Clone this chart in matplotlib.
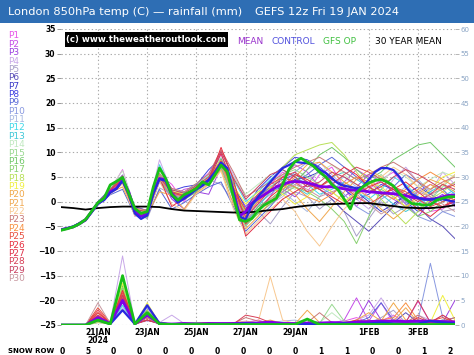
import numpy as np
import pandas as pd
import matplotlib
matplotlib.use("Agg")
import matplotlib.pyplot as plt
from matplotlib.patches import Rectangle

# GEFS 12z run, Fri 19 Jan 2024
times6 = pd.date_range("2024-01-19 12:00", "2024-02-04 12:00", freq="6h")
times12 = pd.date_range("2024-01-19 12:00", "2024-02-04 12:00", freq="12h")

# 850hPa temps (C), 6-hourly
mean_temp = [-5.7, -5.4, -5.1, -4.5, -3.7, -2.0, -0.3, 0.5, 2.0, 2.7, 4.4, 2.0, -2.0,
             -3.0, -2.4, 2.0, 4.7, 4.4, 1.7, 0.3, 1.0, 1.8, 2.7, 3.4, 4.4, 5.7,
             7.8, 6.4, 2.0, -2.9, -2.0, -0.3, 0.6, 1.4, 2.2, 3.0, 3.5, 3.9, 4.1,
             4.0, 3.8, 3.5, 3.1, 3.0, 3.0, 2.8, 2.6, 2.4, 2.3, 2.2, 2.0, 1.9,
             1.8, 1.7, 1.6, 1.4, 1.2, 0.9, 0.7, 0.6, 0.5, 0.6, 1.0, 1.3, 1.3]
control_temp = [-5.7, -5.4, -5.0, -4.4, -3.7, -2.1, -0.4, 0.3, 1.8, 2.6, 4.2, 1.5, -2.4,
                -3.5, -2.8, 1.6, 4.6, 4.2, 1.2, -0.2, 0.6, 1.5, 2.5, 3.3, 4.4, 6.0,
                7.9, 6.8, 1.8, -3.0, -3.6, -0.7, 1.0, 2.4, 4.0, 5.4, 6.8, 7.4, 8.1,
                7.9, 7.8, 7.5, 6.5, 5.8, 4.7, 3.7, 3.2, 3.0, 2.7, 3.0, 4.5, 6.0,
                6.8, 6.8, 6.4, 5.0, 3.0, 1.5, 0.8, 0.4, 0.4, 0.6, 0.5, 0.2, 0.0]
op_temp = [-5.8, -5.5, -5.1, -4.5, -3.6, -1.9, -0.2, 0.7, 3.4, 4.1, 4.9, 1.7, -1.4,
           -2.4, -2.0, 3.0, 6.8, 4.7, 1.4, 0.3, 1.4, 2.0, 2.7, 4.0, 3.4, 5.4,
           7.4, 6.1, 1.0, -3.7, -4.0, -3.4, -1.8, -0.7, 0.0, 0.7, 3.5, 6.5, 8.1,
           8.8, 8.0, 7.2, 6.0, 5.0, 3.5, 2.4, 0.5, -1.5, 1.8, 3.0, 3.8, 4.3,
           4.5, 4.0, 3.2, 1.6, 0.5, -0.4, -0.5, -0.7, -0.6, 0.3, 0.7, 1.0, 1.0]

# 12-hourly
clim_temp = [-1.1, -1.3, -1.6, -1.3, -1.1, -1.0, -1.0, -1.0, -1.1, -1.5, -1.8,
             -1.9, -2.0, -2.1, -2.2, -2.2, -2.0, -1.7, -1.5, -1.1, -0.8, -0.6,
             -0.5, -0.4, -0.3, -0.3, -0.6, -0.9, -1.2, -1.3, -1.3, -1.1, -0.7]
mean_rain = [0, 0, 0, 1.5, 0.3, 5.0, 0.2, 2.0, 0.3, 0.2, 0.3,
             0.2, 0.3, 0.3, 0.3, 0.4, 0.4, 0.6, 0.3, 0.3, 0.4, 0.4,
             0.5, 0.4, 0.6, 0.7, 0.8, 0.8, 0.7, 0.8, 0.8, 0.7, 0.6]
control_rain = [0, 0, 0, 1.0, 0.2, 3.0, 0.2, 4.0, 0.3, 0.1, 0.2,
                0.1, 0.2, 0.1, 0.2, 0.3, 0.2, 0.1, 0.2, 0.1, 0.2, 0.1,
                0.2, 0.3, 0.2, 0.3, 0.5, 0.3, 0.2, 0.3, 0.8, 0.5, 0.3]
op_rain = [0, 0, 0, 1.0, 0.2, 10.0, 0.2, 2.5, 0.2, 0.1, 0.1,
           0.1, 0.1, 0.1, 0.1, 0.1, 0.1, 0.1, 0.1, 0.1, 1.2, 0.1,
           0.1, 0.1, 0.1, 0.1, 0.1, 0.1, 0.1, 0.1, 0.1, 0.1, 0.1]

members = ["P%d" % i for i in range(1, 31)]
member_colors = ["#e855e8", "#c44ce8", "#9b3fe0", "#c8a8e8", "#a8a0c8", "#5a4fb8",
                 "#3a3ac8", "#4040e0", "#5868d8", "#8898e0", "#a8b8e0", "#40d8e8",
                 "#40c8d8", "#c0e8c0", "#98d890", "#70c868", "#88d070", "#b8e058",
                 "#f0f040", "#f0a848", "#f0a850", "#f8c890", "#c87878", "#f89040",
                 "#e85040", "#e83040", "#e03048", "#d84058", "#c84060", "#c898a0"]

member_temp = [
    [-5.8, -5.0, -3.6, -0.5, 2.4, 6.5, -1.5, -3.0, 5.5, 3.5, 0.0, 3.5, 5.8, 9.5, 4.0, -3.5, 0.0, 3.5, 6.0, 4.5, 2.0, 5.5, 7.0, 3.0, -1.0, 2.5, 4.5, 6.0, 3.0, 1.0, -2.0, -1.5, 0.5],
    [-5.6, -5.2, -3.9, -0.2, 1.8, 4.0, -2.5, -2.8, 4.0, 1.0, 2.5, 3.0, 3.5, 8.5, 1.0, -4.0, -1.5, 1.0, 5.0, 7.5, 6.0, 3.0, 1.5, 4.0, 6.5, 5.0, 2.0, 0.5, -1.0, 2.0, 3.5, 2.5, 4.0],
    [-5.7, -5.1, -3.5, -0.6, 2.5, 5.0, -2.8, -1.5, 5.0, 0.5, -1.5, 2.0, 1.5, 7.0, 3.0, -1.0, 1.5, 4.0, 2.5, 1.0, 3.5, 6.5, 4.0, 1.0, 3.0, 5.5, 4.0, 2.0, -0.5, -3.0, 0.0, 1.5, -1.0],
    [-5.9, -5.3, -3.8, -0.1, 1.5, 3.8, -3.0, -2.0, 8.5, 2.0, 1.5, 1.5, 5.0, 10.0, 5.5, 0.5, -2.5, -0.5, 1.0, 3.5, 6.5, 8.0, 5.5, 3.0, 0.5, -1.5, 1.0, 4.5, 7.0, 4.0, 2.0, 6.0, 3.5],
    [-5.6, -5.0, -3.6, -0.4, 2.2, 4.5, -1.8, -3.5, 2.8, 1.5, 0.5, 3.0, 4.5, 3.5, 0.0, -5.0, -2.0, -4.5, -1.0, 2.0, 1.0, -1.5, 0.5, -2.0, -7.0, -3.5, 0.0, -2.5, -1.0, 2.5, 1.0, -2.0, -1.5],
    [-5.8, -5.2, -3.7, -0.2, 1.9, 4.2, -2.2, -2.5, 4.5, 1.8, 1.2, 2.5, 4.0, 8.0, 1.5, -3.0, 1.0, 3.0, 4.5, 5.5, 4.0, 2.5, 0.5, -2.0, -4.0, -6.0, -3.5, -1.0, 1.5, -1.0, -3.5, -5.0, -7.5],
    [-5.7, -5.1, -3.8, -0.3, 2.1, 4.6, -2.0, -2.2, 4.8, 2.0, 0.8, 2.8, 4.6, 7.5, 2.5, -2.5, 0.5, 2.0, 3.0, 4.5, 5.0, 6.0, 4.5, 3.5, 2.0, 0.0, -2.0, -0.5, 1.5, 3.0, 1.5, 0.0, 1.0],
    [-5.5, -5.0, -3.4, 0.0, 2.6, 5.4, -1.0, -1.8, 5.2, 2.2, 3.0, 3.4, 6.5, 8.8, 3.5, -1.5, 2.5, 5.0, 7.0, 9.0, 8.5, 7.0, 5.0, 2.5, 0.5, 1.5, 3.5, 2.5, 0.0, -2.0, -0.5, 1.0, -0.5],
    [-5.8, -5.2, -3.9, -0.7, 1.4, 2.5, -2.7, -3.0, 2.5, -1.5, -0.2, 1.5, 3.0, 4.0, -1.0, -6.0, -3.5, -1.0, 2.0, 4.0, 5.5, 7.5, 9.0, 7.0, 5.0, 3.0, 1.0, 3.0, 5.5, 4.0, 1.5, 2.5, 0.0],
    [-5.7, -5.0, -3.6, -0.1, 2.3, 4.8, -1.6, -2.6, 4.4, 1.4, 1.0, 2.2, 3.8, 7.2, 1.0, -3.0, -0.5, 1.5, 3.5, 6.0, 8.0, 6.5, 4.0, 1.5, -1.0, -2.5, 0.5, 2.0, 0.0, -3.0, -4.0, -2.0, -3.0],
    [-5.6, -5.1, -3.7, -0.3, 2.0, 4.3, -2.1, -2.3, 4.6, 1.6, 0.9, 2.6, 4.5, 7.6, 2.2, -1.8, 1.2, 3.2, 2.0, 0.0, -2.0, 1.0, 3.5, 5.0, 3.0, 0.5, -1.0, 1.0, 3.0, 4.5, 2.0, 0.5, 2.0],
    [-5.8, -5.3, -3.8, -0.4, 1.7, 4.1, -2.4, -2.1, 7.5, 2.4, 1.8, 3.6, 5.2, 8.2, 4.5, 0.0, 2.0, 4.5, 6.5, 5.0, 3.5, 1.5, 2.5, 4.0, 2.0, 0.5, 2.5, 5.0, 3.5, 1.0, -1.0, 1.0, 2.5],
    [-5.7, -5.1, -3.6, -0.2, 2.2, 4.7, -1.9, -2.7, 4.2, 1.2, 0.6, 2.4, 4.2, 7.0, 0.5, -4.5, -1.0, 2.0, 4.0, 3.0, 1.5, 3.0, 5.0, 6.0, 4.5, 3.0, 1.5, -0.5, -2.0, -0.5, 2.0, 3.5, 1.5],
    [-5.6, -5.0, -3.5, -0.5, 2.7, 6.3, -1.2, -2.4, 5.8, 2.6, 1.4, 3.2, 5.5, 9.0, 5.0, 1.5, 3.5, 5.5, 4.0, 2.5, 4.5, 6.0, 7.5, 5.5, 3.5, 2.0, 4.0, 6.5, 5.0, 3.0, 4.5, 6.0, 5.0],
    [-5.8, -5.2, -3.7, -0.3, 1.6, 3.9, -2.6, -1.9, 4.9, 1.9, 1.3, 2.9, 4.7, 7.9, 2.8, -2.2, 0.2, 2.8, 5.5, 6.5, 5.0, 3.5, 2.0, 0.0, 1.5, 3.5, 5.5, 3.0, 1.0, -1.5, 0.5, 3.0, 5.5],
    [-5.7, -5.1, -3.8, -0.1, 2.4, 5.0, -1.7, -3.2, 5.3, 2.3, 0.4, 2.0, 4.8, 8.6, 3.8, -3.8, -1.0, 0.5, 2.5, 4.0, 6.5, 9.5, 11.0, 9.0, 6.5, 4.5, 6.0, 8.5, 10.0, 11.5, 12.0, 9.5, 7.0],
    [-5.6, -5.0, -3.6, -0.6, 2.0, 4.4, -2.3, -2.9, 4.3, 1.1, 0.7, 2.3, 4.1, 6.8, 0.8, -4.8, -2.5, -0.5, 1.5, 3.0, 2.0, 0.5, -1.5, -4.0, -8.5, -3.0, 2.5, 1.0, -1.0, -3.0, -2.0, 0.0, 1.5],
    [-5.7, -5.2, -3.7, -0.2, 2.1, 4.5, -2.0, -2.4, 4.7, 1.7, 1.0, 2.7, 4.4, 7.7, 2.0, -2.2, 1.0, 4.0, 7.0, 9.5, 10.5, 11.5, 12.0, 9.5, 6.0, 3.0, 0.5, -2.0, -4.5, -2.0, 0.5, 2.0, 4.0],
    [-5.8, -5.1, -3.6, -0.4, 2.3, 4.9, -1.4, -2.0, 5.1, 2.1, 1.5, 3.1, 4.9, 8.4, 3.2, -0.5, 2.0, 3.0, 1.5, -0.5, 1.0, 3.5, 2.0, 0.0, 2.0, 4.0, 3.0, 1.0, -1.0, 0.5, 2.5, 5.0, 6.0],
    [-5.6, -5.0, -3.9, -0.5, 1.8, 3.0, -2.5, -2.6, 2.0, 1.3, -1.5, 1.8, 3.6, 6.4, -0.5, -5.5, -3.0, 0.0, 2.5, 5.0, 7.5, 8.0, 6.0, 4.0, 2.5, 1.0, -1.5, -3.5, -1.5, 1.5, 3.5, 2.0, 0.0],
    [-5.7, -5.2, -3.6, -0.2, 2.2, 4.6, -2.2, -2.1, 4.5, 1.5, 1.2, 2.9, 4.6, 8.1, 2.6, -1.6, 0.8, 2.5, 3.5, 1.5, -1.5, -4.0, -1.0, 2.0, 4.5, 6.5, 5.0, 3.0, 1.0, 2.5, 4.5, 3.5, 2.0],
    [-5.8, -5.3, -3.8, -0.6, 1.5, 3.6, -2.9, -2.8, 4.1, -0.5, -1.8, 1.6, 3.4, 6.2, -1.5, -6.5, -4.0, -1.5, 0.5, -2.0, -6.0, -9.0, -5.0, -1.5, 1.0, 3.0, 5.0, 7.0, 5.5, 3.0, 1.0, 3.5, 5.5],
    [-5.6, -5.0, -3.5, -0.3, 2.5, 5.3, -1.3, -1.7, 5.7, 2.7, 2.0, 3.7, 5.6, 10.5, 6.0, 1.0, 2.5, 4.0, 5.5, 7.0, 8.0, 9.0, 7.5, 6.0, 4.5, 5.5, 7.0, 8.0, 6.5, 4.0, 2.5, 4.0, 5.0],
    [-5.7, -5.1, -3.7, -0.2, 2.1, 4.5, -2.1, -2.5, 4.6, 1.6, 0.9, 2.6, 4.3, 7.4, 1.5, -2.8, 0.0, 2.0, 4.0, 3.0, 1.0, 0.0, 1.5, 3.5, 5.0, 4.0, 2.0, 0.5, 2.5, 4.5, 6.0, 4.5, 3.0],
    [-5.8, -5.2, -3.6, -0.5, 1.9, 4.3, -2.2, -2.3, 4.8, 1.8, 1.1, 2.8, 4.5, 8.0, 2.3, -1.7, 1.5, 3.5, 5.0, 4.0, 2.0, 3.0, 4.5, 3.0, 1.0, -0.5, 1.0, 3.0, 2.0, 0.5, -1.0, 0.0, 1.0],
    [-5.6, -5.1, -3.8, -0.1, 2.0, 4.4, -2.0, -2.4, 4.7, 1.7, 1.0, 2.7, 4.4, 11.0, 4.5, -4.5, -2.0, 1.0, 3.0, 5.5, 4.5, 3.0, 5.0, 7.0, 5.5, 3.0, 1.5, 2.5, 4.0, 2.0, 0.0, -1.0, 0.5],
    [-5.7, -5.0, -3.7, -0.4, 2.2, 4.6, -1.8, -2.6, 4.9, -1.0, 0.8, 2.5, 4.3, 9.8, 3.0, -7.0, -4.5, -2.0, 0.5, 2.0, 3.5, 2.5, 1.0, -0.5, 1.5, 3.0, 4.0, 2.5, 0.5, -1.5, -3.0, -1.0, 0.0],
    [-5.8, -5.2, -3.6, -0.3, 1.8, 4.0, -2.3, -2.2, 5.0, 2.0, 1.3, 3.0, 4.6, 8.3, 2.6, -3.2, -0.5, 2.5, 5.0, 6.0, 4.0, 2.5, 3.5, 5.5, 7.0, 6.0, 4.5, 3.0, 1.5, 0.0, 1.5, 3.5, 2.5],
    [-5.6, -5.0, -3.5, -0.2, 2.4, 5.1, -1.6, -2.0, 7.0, 2.4, 1.7, 3.3, 5.0, 10.2, 4.8, 0.5, 3.0, 5.5, 6.5, 5.0, 3.0, 4.0, 6.0, 5.0, 3.5, 2.0, 3.0, 5.0, 6.5, 5.5, 4.0, 2.5, 3.5],
    [-5.7, -5.1, -3.7, -0.3, 2.0, 4.2, -2.1, -2.5, 4.6, 1.6, 0.9, 2.6, 4.3, 7.3, 1.2, -3.5, -1.5, 0.5, 2.0, 3.5, 2.5, 1.0, 2.0, 3.0, 1.5, -0.5, -2.5, -1.0, 0.5, 2.0, 1.0, -0.5, -2.0],
]

# rainfall (mm), 12-hourly
member_rain = [
    [0, 0, 0, 1.5, 0.3, 6.0, 0.2, 1.5, 0.5, 0.2, 0.3, 0.2, 0.5, 0.3, 0.2, 0.5, 1.0, 0.3, 0.2, 0.5, 0.2, 0.3, 0.5, 0.8, 1.5, 0.5, 0.8, 2.0, 0.5, 4.8, 0.5, 0.3, 1.0],
    [0, 0, 0, 0.8, 0.2, 5.0, 0.3, 2.0, 0.3, 0.1, 0.2, 0.3, 0.2, 0.5, 0.3, 0.2, 0.5, 0.2, 0.3, 0.2, 0.4, 0.2, 0.3, 1.0, 5.5, 0.8, 4.5, 0.5, 1.0, 0.5, 0.3, 0.5, 0.2],
    [0, 0, 0, 1.0, 0.3, 7.0, 0.2, 1.0, 0.2, 0.3, 0.2, 0.1, 0.3, 0.2, 0.4, 0.3, 0.2, 0.5, 0.3, 0.2, 0.2, 0.5, 0.2, 0.3, 0.5, 5.0, 1.0, 0.5, 0.3, 0.5, 1.0, 0.5, 5.0],
    [0, 0, 0, 0.5, 0.5, 14.0, 0.3, 0.8, 0.5, 2.0, 0.3, 0.5, 0.2, 0.3, 0.2, 0.5, 0.3, 0.2, 0.5, 0.3, 0.2, 0.3, 0.5, 0.3, 1.0, 2.0, 5.5, 1.5, 0.5, 2.0, 1.0, 0.5, 0.3],
    [0, 0, 0, 2.0, 0.2, 4.0, 0.2, 1.5, 0.3, 0.2, 0.3, 0.2, 0.5, 0.3, 0.2, 0.3, 0.4, 0.3, 0.2, 0.5, 0.3, 0.2, 0.4, 0.3, 0.5, 0.3, 1.5, 3.0, 0.5, 1.0, 0.5, 2.0, 0.5],
    [0, 0, 0, 1.2, 0.3, 5.5, 0.2, 2.5, 0.4, 0.2, 0.2, 0.3, 0.2, 0.2, 0.3, 0.4, 0.2, 0.3, 0.5, 0.2, 0.3, 0.2, 0.3, 0.5, 0.5, 1.0, 0.5, 0.5, 2.5, 0.5, 1.0, 0.8, 1.5],
    [0, 0, 0, 1.5, 0.2, 6.0, 0.3, 3.0, 0.3, 0.3, 0.2, 0.2, 0.3, 0.2, 0.2, 0.3, 0.5, 0.2, 0.3, 0.3, 0.2, 0.4, 0.3, 0.2, 0.3, 0.5, 0.3, 0.8, 0.5, 0.3, 0.5, 1.0, 0.5],
    [0, 0, 0, 0.8, 0.3, 4.5, 0.2, 4.0, 0.5, 0.2, 0.3, 0.2, 0.2, 0.3, 0.5, 0.2, 0.3, 0.5, 0.2, 0.4, 0.3, 0.2, 0.5, 0.3, 0.2, 0.5, 0.3, 0.5, 0.8, 0.5, 0.3, 0.8, 0.5],
    [0, 0, 0, 1.0, 0.2, 5.0, 0.3, 2.0, 0.2, 0.3, 0.2, 0.3, 0.2, 0.3, 0.2, 0.5, 0.3, 0.4, 0.2, 0.3, 0.5, 0.3, 0.2, 0.3, 0.5, 1.5, 4.5, 1.0, 0.5, 0.5, 0.8, 0.3, 0.5],
    [0, 0, 0, 1.5, 0.3, 6.5, 0.2, 3.5, 0.3, 0.2, 0.3, 0.2, 0.3, 0.2, 0.5, 0.3, 0.2, 0.3, 0.5, 0.2, 0.3, 0.5, 0.3, 0.2, 0.3, 0.5, 1.0, 0.5, 0.3, 1.0, 12.5, 1.5, 0.5],
    [0, 0, 0, 0.5, 0.2, 3.5, 0.3, 1.5, 0.2, 0.2, 0.5, 0.3, 0.5, 0.2, 0.3, 0.2, 0.3, 0.5, 0.8, 1.0, 0.5, 0.3, 0.5, 0.3, 0.5, 0.8, 0.5, 1.0, 0.3, 0.5, 1.0, 0.5, 0.3],
    [0, 0, 0, 1.0, 0.2, 4.0, 0.2, 2.0, 0.3, 0.3, 0.2, 0.5, 0.2, 0.3, 0.2, 0.3, 0.2, 0.3, 0.2, 0.5, 0.3, 0.2, 0.3, 0.5, 0.2, 0.3, 0.5, 0.3, 0.5, 0.3, 0.5, 0.3, 0.5],
    [0, 0, 0, 0.8, 0.3, 5.5, 0.2, 2.5, 0.2, 0.2, 0.3, 0.2, 0.3, 0.5, 0.2, 0.3, 0.3, 0.2, 0.3, 0.2, 0.5, 0.3, 0.2, 0.3, 0.5, 0.2, 0.3, 0.5, 0.3, 0.5, 0.3, 0.5, 0.3],
    [0, 0, 0, 1.2, 0.2, 5.0, 0.3, 1.0, 0.3, 0.2, 0.2, 0.3, 0.2, 0.3, 0.3, 0.5, 0.2, 0.3, 0.5, 0.3, 1.0, 0.5, 2.5, 0.5, 0.3, 0.5, 0.3, 1.0, 0.5, 0.3, 0.5, 0.8, 0.5],
    [0, 0, 0, 1.0, 0.3, 6.0, 0.2, 1.5, 0.2, 0.3, 0.2, 0.2, 0.3, 0.2, 0.5, 0.3, 0.2, 0.5, 0.3, 0.2, 0.5, 0.3, 4.2, 0.8, 0.5, 0.3, 0.5, 0.3, 0.5, 0.5, 0.3, 1.0, 0.5],
    [0, 0, 0, 0.8, 0.2, 8.0, 0.3, 2.0, 0.3, 0.2, 0.3, 0.5, 0.3, 0.2, 0.3, 0.2, 0.3, 0.2, 0.5, 0.3, 0.2, 0.5, 0.3, 0.2, 0.3, 0.5, 0.3, 0.2, 0.5, 0.3, 0.5, 0.3, 0.2],
    [0, 0, 0, 1.0, 0.3, 7.5, 0.2, 2.5, 0.5, 0.2, 0.2, 0.3, 0.2, 0.3, 0.2, 0.3, 0.5, 0.3, 0.2, 0.3, 0.5, 0.2, 0.3, 0.5, 0.3, 0.2, 0.5, 0.3, 0.2, 0.5, 0.3, 0.2, 0.5],
    [0, 0, 0, 0.5, 0.2, 5.0, 0.3, 3.0, 0.2, 0.3, 0.2, 0.2, 0.5, 0.3, 0.2, 0.5, 0.3, 0.2, 0.3, 0.2, 0.3, 0.5, 0.3, 0.2, 0.5, 0.3, 0.2, 0.5, 0.3, 0.5, 0.3, 0.5, 0.3],
    [0, 0, 0, 1.0, 0.3, 8.5, 0.2, 4.5, 0.3, 0.2, 0.3, 0.2, 0.3, 0.2, 0.5, 0.3, 0.2, 0.3, 0.2, 0.5, 0.3, 0.2, 0.3, 0.5, 0.2, 0.3, 0.5, 0.3, 0.5, 1.0, 0.5, 6.0, 1.0],
    [0, 0, 0, 1.5, 0.2, 6.0, 0.3, 2.0, 0.2, 0.3, 0.2, 0.3, 0.5, 0.3, 0.2, 0.3, 0.5, 1.0, 0.3, 0.2, 0.3, 0.5, 0.3, 0.5, 1.0, 2.5, 0.8, 4.5, 1.0, 0.5, 0.3, 0.5, 0.8],
    [0, 0, 0, 1.0, 0.3, 5.5, 0.2, 1.5, 0.3, 0.2, 0.3, 0.2, 0.3, 0.5, 0.2, 0.3, 0.2, 0.5, 0.3, 0.2, 3.0, 0.5, 0.3, 0.2, 0.5, 1.0, 0.5, 0.8, 3.5, 0.5, 0.3, 0.5, 0.3],
    [0, 0, 0, 0.8, 0.2, 5.0, 0.3, 2.0, 0.2, 0.3, 0.2, 0.3, 0.2, 0.3, 0.5, 0.8, 0.5, 9.8, 1.0, 0.3, 0.2, 0.3, 0.2, 0.5, 0.3, 0.5, 0.3, 0.5, 0.8, 0.5, 1.0, 0.5, 0.3],
    [0, 0, 0, 2.0, 0.3, 6.0, 0.2, 1.0, 0.3, 0.2, 0.5, 0.3, 0.2, 0.5, 0.3, 1.5, 0.8, 0.3, 0.5, 0.3, 0.5, 2.5, 0.5, 0.3, 0.5, 0.3, 0.5, 1.0, 0.5, 2.0, 0.5, 0.8, 1.5],
    [0, 0, 0, 2.5, 0.3, 7.0, 0.3, 1.5, 0.3, 0.2, 0.3, 0.2, 0.3, 0.2, 0.3, 0.5, 0.3, 0.5, 0.3, 0.2, 0.3, 0.2, 0.5, 0.3, 0.5, 0.3, 1.0, 1.5, 4.5, 1.0, 0.5, 0.3, 0.5],
    [0, 0, 0, 3.5, 0.5, 6.5, 0.2, 1.5, 0.2, 0.3, 0.2, 0.3, 0.2, 0.3, 0.2, 0.3, 0.5, 0.3, 0.2, 0.3, 0.2, 0.5, 0.3, 0.2, 0.3, 0.5, 0.3, 0.5, 0.3, 0.5, 0.8, 1.5, 0.5],
    [0, 0, 0, 3.0, 0.3, 7.0, 0.3, 1.0, 0.3, 0.2, 0.3, 0.2, 0.3, 0.2, 0.3, 0.2, 0.3, 0.5, 0.2, 0.3, 0.5, 0.3, 0.2, 0.5, 0.3, 0.2, 0.5, 0.3, 0.5, 0.3, 0.5, 0.3, 0.5],
    [0, 0, 0, 2.5, 0.3, 6.0, 0.2, 1.0, 0.3, 0.3, 0.2, 0.3, 0.2, 0.3, 0.5, 0.3, 0.2, 0.3, 0.5, 0.3, 0.2, 0.3, 0.5, 0.3, 1.0, 0.5, 0.3, 0.5, 0.3, 1.5, 0.5, 2.0, 0.5],
    [0, 0, 0, 2.0, 0.2, 5.5, 0.3, 1.5, 0.2, 0.3, 0.2, 0.3, 0.5, 0.3, 0.2, 2.0, 1.5, 0.5, 0.3, 0.2, 0.3, 0.5, 0.3, 0.5, 0.3, 0.5, 0.3, 0.5, 0.3, 0.5, 0.3, 0.5, 0.3],
    [0, 0, 0, 1.8, 0.3, 6.0, 0.2, 1.0, 0.3, 0.2, 0.3, 0.2, 0.3, 0.2, 0.5, 0.3, 0.2, 0.3, 0.2, 0.3, 0.5, 0.3, 0.2, 0.3, 0.5, 0.3, 0.5, 0.3, 0.5, 5.0, 0.5, 0.5, 0.3],
    [0, 0, 0, 4.5, 0.3, 5.0, 0.3, 1.5, 0.2, 0.3, 0.2, 0.3, 0.2, 0.5, 0.3, 0.2, 0.3, 0.2, 0.5, 0.3, 0.5, 0.2, 0.3, 0.5, 0.3, 0.5, 0.3, 0.5, 0.3, 0.5, 0.3, 0.5, 0.8],
]

snow_row = [0, 5, 0, 0, 0, 0, 0, 0, 0, 0, 1, 1, 0, 0, 1, 2]
tick_dates = pd.to_datetime(["2024-01-21", "2024-01-23", "2024-01-25", "2024-01-27",
                             "2024-01-29", "2024-02-01", "2024-02-03"])
tick_labels = ["21JAN\n2024", "23JAN", "25JAN", "27JAN", "29JAN", "1FEB", "3FEB"]

W, H = 474, 355
fig = plt.figure(figsize=(W / 100, H / 100), dpi=100)
fig.patch.set_facecolor("white")

# title bar
fig.add_artist(Rectangle((0, 1 - 23 / H), 1, 23 / H, transform=fig.transFigure,
                         facecolor="#2e6eb4", edgecolor="none"))
fig.text(8 / W, 1 - 12 / H, "London 850hPa temp (C) \u2014 rainfall (mm)", color="white",
         fontsize=8.2, va="center", ha="left")
fig.text(255 / W, 1 - 12 / H, "GEFS 12z Fri 19 JAN 2024", color="white",
         fontsize=8.2, va="center", ha="left")

ax = fig.add_axes([61 / W, 1 - 325 / H, 394 / W, 296 / H])
ax2 = ax.twinx()

for i in range(len(members)):
    ax.plot(times12, member_temp[i], color=member_colors[i], lw=0.7)
    ax2.plot(times12, member_rain[i], color=member_colors[i], lw=0.7)

ax.plot(times12, clim_temp, color="black", lw=1.3)
ax.plot(times6, mean_temp, color="#8000e8", lw=2.0)
ax.plot(times6, control_temp, color="#2828e0", lw=1.6)
ax.plot(times6, op_temp, color="#18c018", lw=2.0)
ax2.plot(times12, mean_rain, color="#8000e8", lw=2.0)
ax2.plot(times12, control_rain, color="#2828e0", lw=1.6)
ax2.plot(times12, op_rain, color="#18c018", lw=2.0)

ax.set_xlim(times12[0], times12[-1])
ax.set_ylim(-25, 35)
ax2.set_ylim(0, 60)
ax.set_yticks(np.arange(-25, 36, 5))
ax2.set_yticks(np.arange(0, 61, 5))
ax.set_xticks(tick_dates)
ax.set_xticklabels(tick_labels, fontsize=5.5, fontweight="bold", linespacing=0.95)

ax.grid(True, color="#aaaaaa", linestyle=(0, (1.2, 2.2)), linewidth=0.8)
for a in (ax, ax2):
    for s in a.spines.values():
        s.set_visible(False)
ax.tick_params(axis="x", length=0, pad=2)
ax.tick_params(axis="y", length=3, width=0.6, color="#888888", pad=1,
               labelsize=5.5)
for lab in ax.get_yticklabels():
    lab.set_fontweight("bold")
ax2.tick_params(axis="y", length=3, width=0.6, color="#aaaaaa", pad=1,
                labelsize=5, labelcolor="#8aa4c4")

# watermark
fig.add_artist(Rectangle((65 / W, 1 - 47 / H), 163 / W, 15 / H, transform=fig.transFigure,
                         facecolor="black", edgecolor="none"))
fig.text(146 / W, 1 - 39.5 / H, "(c) www.theweatheroutlook.com", color="white",
         fontsize=6.2, fontweight="bold", ha="center", va="center")

# legend words
for x, word, c in [(237, "MEAN", "#9933cc"), (272, "CONTROL", "#5050dd"),
                   (323, "GFS OP", "#40c040"), (375, "30 YEAR MEAN", "black")]:
    fig.text(x / W, 1 - 41 / H, word, color=c, fontsize=6.5, ha="left", va="center")

# member names
for i, name in enumerate(members):
    fig.text(8 / W, 1 - (36 + 8.36 * i) / H, name, color=member_colors[i],
             fontsize=6.5, ha="left", va="center")

# snow row
fig.text(8 / W, 1 - 351 / H, "SNOW ROW", fontsize=5, fontweight="bold", va="center")
for x, v in zip(np.linspace(62, 450, len(snow_row)), snow_row):
    fig.text(x / W, 1 - 351 / H, str(v), fontsize=5.5, fontweight="bold",
             ha="center", va="center")

fig.savefig("out.png", dpi=100)
